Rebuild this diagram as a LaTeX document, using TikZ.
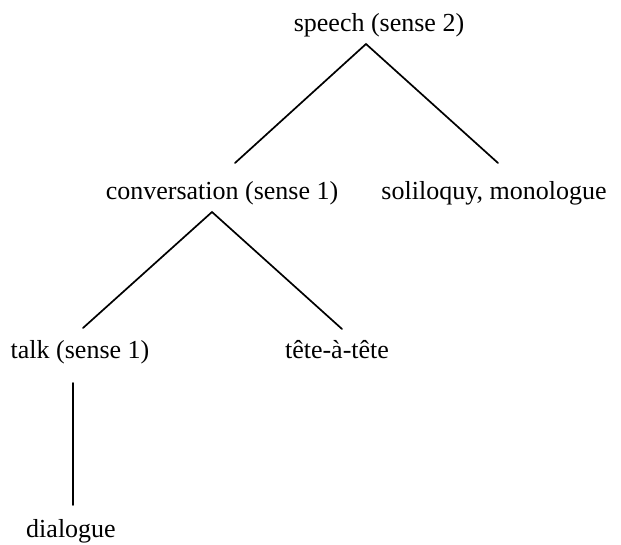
\documentclass[tikz,border=0pt]{standalone}
\usepackage{fontspec}
\setmainfont{Liberation Serif}
\begin{document}
\begin{tikzpicture}[x=1pt,y=-1pt,
  term/.style={font=\fontsize{26}{30}\selectfont, inner sep=0pt, anchor=base},
  branch/.style={line width=1.7pt, line cap=round}]
\useasboundingbox (0,0) rectangle (621,545);

% terms of the hierarchy
\node[term] (speech) at (379,32)  {speech (sense 2)};
\node[term] (conv)   at (222,200) {conversation (sense 1)};
\node[term] (solil)  at (494,200) {soliloquy, monologue};
\node[term] (talk)   at (80,358)  {talk (sense 1)};
\node[term] (tete)   at (337,358) {tête-à-tête};
\node[term] (dial)   at (71,537)  {dialogue};

% attachment points of the branches
\coordinate (speech-b) at (366,44);
\coordinate (conv-t)   at (235,163);
\coordinate (solil-t)  at (498,163);
\coordinate (conv-b)   at (212,212);
\coordinate (talk-t)   at (83,328);
\coordinate (tete-t)   at (342,329);
\coordinate (talk-b)   at (73,383);
\coordinate (dial-t)   at (73,505);

% branches
\draw[branch] (conv-t) -- (speech-b) -- (solil-t);
\draw[branch] (talk-t) -- (conv-b) -- (tete-t);
\draw[branch] (talk-b) -- (dial-t);
\end{tikzpicture}
\end{document}
